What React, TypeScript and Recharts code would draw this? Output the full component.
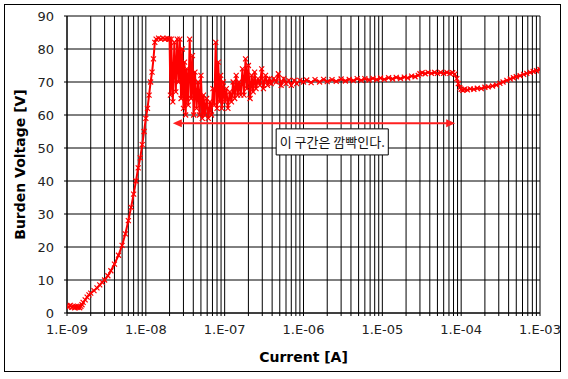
import React from "react";
import {
  LineChart,
  Line,
  XAxis,
  YAxis,
  CartesianGrid,
  ReferenceLine,
  ReferenceArea,
} from "recharts";

// Current [A], Burden Voltage [V]
const rampSegment: [number, number][] = [
  [1.0e-9, 2.2], [1.05e-9, 1.8], [1.1e-9, 2.3], [1.15e-9, 1.7], [1.2e-9, 2.1],
  [1.25e-9, 1.6], [1.3e-9, 2.0], [1.35e-9, 1.7], [1.4e-9, 1.9], [1.45e-9, 1.6],
  [1.5e-9, 2.0], [1.55e-9, 2.5], [1.6e-9, 3.2], [1.7e-9, 4.0], [1.8e-9, 4.8],
  [1.9e-9, 5.5], [2.0e-9, 6.0], [2.2e-9, 6.8], [2.4e-9, 7.6], [2.6e-9, 8.5],
  [2.8e-9, 9.3], [3.0e-9, 10.0], [3.3e-9, 11.3], [3.6e-9, 12.8], [4.0e-9, 14.8],
  [4.5e-9, 17.5], [5.0e-9, 20.5], [5.5e-9, 24], [6.0e-9, 28], [6.5e-9, 32],
  [7.0e-9, 36], [7.5e-9, 40], [8.0e-9, 44], [8.5e-9, 47], [9.0e-9, 51],
  [9.5e-9, 55], [1.0e-8, 59], [1.05e-8, 62], [1.1e-8, 66], [1.15e-8, 70],
  [1.2e-8, 73], [1.25e-8, 77], [1.3e-8, 82], [1.35e-8, 83], [1.45e-8, 83.3],
  [1.55e-8, 83], [1.65e-8, 83.3], [1.75e-8, 83], [1.85e-8, 83.2], [1.95e-8, 83],
];

const flickerSegment: [number, number][] = [
  [2.0e-8, 83], [2.05e-8, 66], [2.1e-8, 83], [2.2e-8, 64], [2.3e-8, 82],
  [2.4e-8, 67], [2.5e-8, 83], [2.6e-8, 70], [2.7e-8, 83], [2.8e-8, 65],
  [2.9e-8, 80], [3.0e-8, 62], [3.1e-8, 76], [3.2e-8, 60], [3.3e-8, 74],
  [3.45e-8, 63], [3.6e-8, 83], [3.75e-8, 65], [3.9e-8, 78], [4.05e-8, 60],
  [4.2e-8, 73], [4.4e-8, 62], [4.6e-8, 70], [4.8e-8, 60], [5.0e-8, 72],
  [5.2e-8, 59], [5.4e-8, 66], [5.6e-8, 60], [5.9e-8, 65], [6.2e-8, 59],
  [6.5e-8, 64], [6.8e-8, 60], [7.1e-8, 68], [7.4e-8, 63], [7.7e-8, 82],
  [8.0e-8, 62], [8.3e-8, 76], [8.6e-8, 64], [8.9e-8, 72], [9.2e-8, 62],
  [9.6e-8, 70], [1.0e-7, 64], [1.05e-7, 68], [1.1e-7, 62], [1.16e-7, 67],
  [1.22e-7, 64], [1.28e-7, 70], [1.34e-7, 65], [1.4e-7, 72], [1.46e-7, 66],
  [1.52e-7, 70], [1.6e-7, 66], [1.68e-7, 74], [1.76e-7, 66], [1.84e-7, 77],
  [1.92e-7, 68], [2.0e-7, 75], [2.1e-7, 65], [2.2e-7, 72], [2.3e-7, 67],
  [2.4e-7, 73], [2.5e-7, 68], [2.65e-7, 71], [2.8e-7, 69], [2.95e-7, 74],
  [3.1e-7, 68], [3.3e-7, 72], [3.5e-7, 69], [3.7e-7, 71], [3.9e-7, 69.5],
  [4.2e-7, 71], [4.5e-7, 70], [4.8e-7, 72.5], [5.2e-7, 69], [5.6e-7, 71],
  [6.0e-7, 69.5], [6.5e-7, 70.5], [7.0e-7, 69], [7.6e-7, 70.5], [8.2e-7, 69.5],
  [9.0e-7, 70.5], [1.0e-6, 70],
];

const plateauSegment: [number, number][] = [
  [1.1e-6, 70.6], [1.25e-6, 69.8], [1.4e-6, 70.7], [1.6e-6, 70.0], [1.8e-6, 70.8],
  [2.0e-6, 70.1], [2.3e-6, 70.7], [2.6e-6, 70.2], [3.0e-6, 70.9], [3.4e-6, 70.3],
  [3.8e-6, 70.8], [4.3e-6, 70.4], [4.8e-6, 71.0], [5.4e-6, 70.5], [6.0e-6, 71.0],
  [6.8e-6, 70.6], [7.6e-6, 71.1], [8.5e-6, 70.7], [9.5e-6, 71.2], [1.06e-5, 70.8],
  [1.2e-5, 71.3], [1.35e-5, 70.9], [1.5e-5, 71.4], [1.7e-5, 71.0], [1.9e-5, 71.5],
  [2.1e-5, 71.2], [2.35e-5, 71.8], [2.6e-5, 71.6], [2.85e-5, 72.0], [3.0e-5, 72.5],
  [3.2e-5, 72.8], [3.5e-5, 72.5], [3.8e-5, 72.9], [4.2e-5, 72.6], [4.6e-5, 72.9],
  [5.0e-5, 72.6], [5.5e-5, 72.9], [6.0e-5, 72.6], [6.6e-5, 72.9], [7.2e-5, 72.6],
  [7.8e-5, 72.8], [8.3e-5, 72.4],
];

const tailSegment: [number, number][] = [
  [8.8e-5, 71.0], [9.2e-5, 69.5], [9.6e-5, 68.3], [1.0e-4, 67.8], [1.05e-4, 67.5],
  [1.1e-4, 67.8], [1.2e-4, 67.6], [1.3e-4, 67.9], [1.45e-4, 67.8], [1.6e-4, 68.1],
  [1.8e-4, 68.0], [2.0e-4, 68.4], [2.2e-4, 68.5], [2.5e-4, 68.8], [2.8e-4, 69.1],
  [3.1e-4, 69.6], [3.4e-4, 70.0], [3.8e-4, 70.5], [4.2e-4, 70.9], [4.6e-4, 71.3],
  [5.0e-4, 71.6], [5.6e-4, 71.9], [6.2e-4, 72.3], [6.8e-4, 72.6], [7.5e-4, 72.9],
  [8.2e-4, 73.2], [9.0e-4, 73.4], [1.0e-3, 73.8],
];

const yTicks = [0, 10, 20, 30, 40, 50, 60, 70, 80, 90];
const decadeExponents = [-9, -8, -7, -6, -5, -4, -3];
const minorMultipliers = [1, 2, 3, 4, 5, 6, 7, 8, 9];

const annotationText = "이 구간은 깜빡인다.";
const arrowStart = { x: 2.2e-8, y: 57.5 };
const arrowEnd = { x: 8.4e-5, y: 57.5 };
const boxX = [4.5e-7, 1.19e-5];
const boxY = [47.9, 55.8];

const data = [...rampSegment, ...flickerSegment, ...plateauSegment, ...tailSegment].map(
  ([i, v]) => ({ i, v })
);

const xTicks: number[] = [];
decadeExponents.forEach((e, idx) => {
  if (idx === decadeExponents.length - 1) {
    xTicks.push(Math.pow(10, e));
  } else {
    minorMultipliers.forEach((m) => xTicks.push(Number((m * Math.pow(10, e)).toPrecision(3))));
  }
});

const formatX = (v: number) => {
  const l = Math.log10(v);
  const e = Math.round(l);
  if (Math.abs(l - e) > 1e-6) return "";
  return "1.E" + (e < 0 ? "-" : "+") + String(Math.abs(e)).padStart(2, "0");
};

const XMarker = (props: any) => {
  const { cx, cy, index } = props;
  if (cx == null || cy == null) return <g key={"d" + index} />;
  const r = 2.5;
  return (
    <path
      key={"d" + index}
      d={`M${cx - r},${cy - r}L${cx + r},${cy + r}M${cx - r},${cy + r}L${cx + r},${cy - r}`}
      stroke="#ff0000"
      strokeWidth={1.2}
      fill="none"
    />
  );
};

const ArrowShape = (props: any) => {
  const { x1, y1, x2, y2 } = props;
  if (x1 == null) return null;
  const h = 9;
  const w = 4;
  return (
    <g>
      <line x1={x1 + 4} y1={y1} x2={x2 - 4} y2={y2} stroke="#ff2020" strokeWidth={2} />
      <path d={`M${x1},${y1}L${x1 + h},${y1 - w}L${x1 + h},${y1 + w}Z`} fill="#ff2020" />
      <path d={`M${x2},${y2}L${x2 - h},${y2 - w}L${x2 - h},${y2 + w}Z`} fill="#ff2020" />
    </g>
  );
};

const YTitle = (props: any) => {
  const vb = props.viewBox || {};
  const x = vb.x + 13;
  const y = vb.y + vb.height / 2;
  return (
    <text
      x={x}
      y={y}
      transform={`rotate(-90, ${x}, ${y})`}
      textAnchor="middle"
      dominantBaseline="central"
      fontFamily="DejaVu Sans"
      fontWeight="bold"
      fontSize={14}
      fill="#000"
    >
      Burden Voltage [V]
    </text>
  );
};

const XTitle = (props: any) => {
  const vb = props.viewBox || {};
  const x = vb.x + vb.width / 2;
  const y = vb.y + 44;
  return (
    <text
      x={x}
      y={y}
      textAnchor="middle"
      dominantBaseline="central"
      fontFamily="DejaVu Sans"
      fontWeight="bold"
      fontSize={14}
      fill="#000"
    >
      Current [A]
    </text>
  );
};

export default function App() {
  return (
    <div style={{ position: "absolute", left: 0, top: 0, width: 568, height: 379, background: "#fff" }}>
      <div
        style={{
          position: "absolute",
          left: 4,
          top: 4,
          width: 557,
          height: 368,
          border: "1px solid #000",
          boxSizing: "border-box",
        }}
      />
      <div style={{ position: "absolute", left: 0, top: 0 }}>
        <LineChart
          width={568}
          height={379}
          data={data}
          margin={{ top: 16, right: 28, left: 7, bottom: 10 }}
        >
          <CartesianGrid stroke="#000" strokeWidth={1} strokeOpacity={1} />
          <XAxis
            dataKey="i"
            type="number"
            scale="log"
            domain={[1e-9, 1e-3]}
            allowDataOverflow
            ticks={xTicks}
            interval={0}
            tickFormatter={formatX}
            height={56}
            tickSize={3}
            tickMargin={9}
            stroke="#000"
            tick={{ fill: "#222", fontSize: 13, fontFamily: "DejaVu Sans" }}
            label={<XTitle />}
          />
          <YAxis
            type="number"
            domain={[0, 90]}
            ticks={yTicks}
            interval={0}
            width={60}
            tickSize={3}
            tickMargin={10}
            stroke="#000"
            tick={{ fill: "#222", fontSize: 13, fontFamily: "DejaVu Sans" }}
            label={<YTitle />}
          />
          <ReferenceLine
            segment={[arrowStart, arrowEnd]}
            shape={<ArrowShape />}
            ifOverflow="visible"
          />
          <Line
            dataKey="v"
            stroke="#ff0000"
            strokeWidth={2}
            dot={<XMarker />}
            isAnimationActive={false}
          />
          <ReferenceArea
            x1={boxX[0]}
            x2={boxX[1]}
            y1={boxY[0]}
            y2={boxY[1]}
            fill="#fff"
            fillOpacity={1}
            stroke="#000"
            strokeWidth={1}
            ifOverflow="visible"
            label={{
              value: annotationText,
              position: "center",
              fill: "#111",
              fontSize: 13,
              fontFamily: "Noto Sans CJK KR",
            }}
          />
        </LineChart>
      </div>
    </div>
  );
}
